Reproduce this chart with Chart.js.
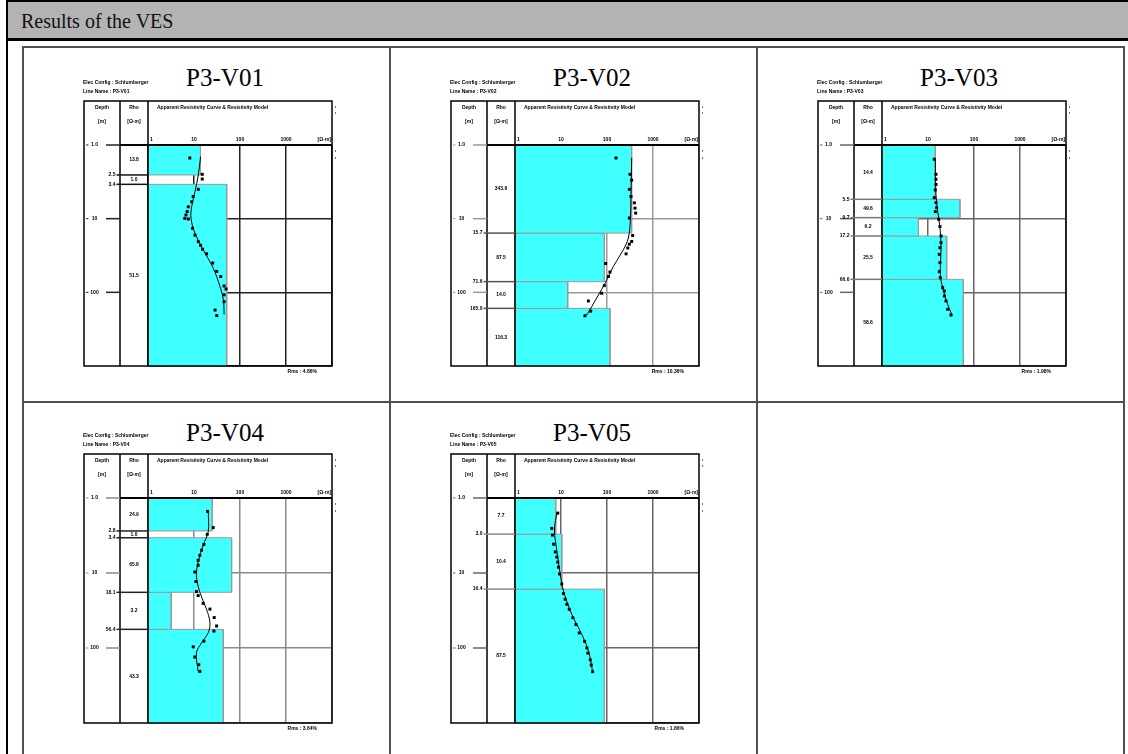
<!DOCTYPE html>
<html lang="en">
<head>
<meta charset="UTF-8">
<title>Results of the VES</title>
<script src="https://cdn.jsdelivr.net/npm/chart.js"></script>
<style>
    body {
        margin: 0;
        background: #fff;
        font-family: 'Liberation Serif', 'Times New Roman', serif;
    }
    #page {
        position: relative;
        width: 1128px;
        height: 754px;
        overflow: hidden;
    }
    .rule { position: absolute; background: #000; }
    .gridline { position: absolute; background: #505050; }
    #titleBar {
        position: absolute;
        left: 8px; top: 2px;
        width: 1120px; height: 36px;
        background: #b3b3b3;
        font-size: 20px;
        line-height: 38px;
        padding-left: 13px;
        box-sizing: border-box;
        color: #111;
    }
    .cell { position: absolute; width: 365px; height: 353px; overflow: hidden; }
    .panelTitle {
        position: absolute;
        left: 101px; width: 200px; top: 17px;
        font-size: 25px; line-height: 26px;
        text-align: center; color: #000;
    }
    .cell canvas { position: absolute; left: 53px; }
</style>
</head>
<body>
<div id="page">
    <div class="rule" style="left:6px;top:0;width:2px;height:754px"></div>
    <div class="rule" style="left:6px;top:0;width:1122px;height:2px"></div>
    <div id="titleBar">Results of the VES</div>
    <div class="rule" style="left:6px;top:38px;width:1122px;height:3px"></div>

    <div class="gridline" style="left:22px;top:46px;width:1103px;height:2px"></div>
    <div class="gridline" style="left:22px;top:401px;width:1103px;height:2px"></div>
    <div class="gridline" style="left:22px;top:46px;width:2px;height:708px"></div>
    <div class="gridline" style="left:389px;top:46px;width:2px;height:708px"></div>
    <div class="gridline" style="left:756px;top:46px;width:2px;height:708px"></div>
    <div class="gridline" style="left:1123px;top:46px;width:2px;height:708px"></div>
</div>

<script>
    // axis ticks
    const resTicks = [1, 10, 100, 1000, 10000];
    const resTickText = ['1', '10', '100', '1000', ''];
    const resUnit = '[Ω·m]';
    const depthTicks = [1, 10, 100, 1000];
    const depthTickText = ['1.0', '10', '100', ''];

    // P3-V01
    const v01ObsDepth = [1.5, 2.5, 2.9, 4.0, 5.0, 5.9, 6.9, 8.0, 8.9, 9.9, 10.1, 13.5, 16.7, 20.5, 23, 26, 30, 40, 52, 61, 82, 90, 108, 134, 174, 207];
    const v01ObsRho = [8.1, 15.1, 15.1, 12.4, 9.6, 8.9, 7.5, 7.1, 6.7, 6.3, 7.5, 9.3, 10.5, 12.4, 13.9, 15.4, 18.8, 25.5, 31.2, 38.1, 45.1, 49.8, 45.1, 45.1, 28.7, 31.2];
    const v01CurveDepth = [1.44, 2.55, 4.3, 6.9, 9.9, 15.8, 26.6, 47.2, 83.7, 127, 200];
    const v01CurveRho = [13.9, 12.4, 10.5, 8.9, 8.6, 10.5, 15.9, 26.3, 36.8, 43.6, 45.1];
    const v01Bounds = [2.55, 3.42];
    const v01LayerRho = [13.8, 1.0, 51.5];

    // P3-V02
    const v02ObsDepth = [1.5, 2.5, 3.0, 4.0, 5.0, 6.1, 7.2, 8.4, 9.8, 16.9, 20.4, 22.2, 25, 30, 40.6, 53, 61, 81, 103, 131, 180, 208];
    const v02ObsRho = [157, 316, 344, 306, 332, 393, 406, 420, 306, 361, 344, 306, 283, 260, 93.5, 116, 107, 87.5, 76.6, 39.3, 44.2, 33.2];
    const v02CurveDepth = [1.49, 4.7, 10.9, 18.3, 26.5, 44.7, 75.4, 109, 157, 204];
    const v02CurveRho = [344, 332, 321, 291, 226, 137, 90.5, 64.8, 46.4, 36.1];
    const v02Bounds = [15.7, 71.6, 165];
    const v02LayerRho = [343.8, 87.5, 14.0, 116.3];

    // P3-V03
    const v03ObsDepth = [1.56, 2.5, 2.92, 3.43, 4.08, 5.19, 6.06, 7.09, 8.03, 10.2, 12.8, 17.2, 21.2, 24.8, 30.5, 39.5, 52.4, 63.2, 86.4, 95.9, 112, 131, 170, 203];
    const v03ObsRho = [13.7, 14.9, 14.9, 14.9, 14.4, 13.7, 14.9, 15.4, 14.4, 17.1, 18.2, 19.2, 19.2, 18.2, 17.6, 18.2, 17.6, 18.5, 20.8, 22.7, 22.7, 24.6, 26.8, 31.6];
    const v03CurveDepth = [1.56, 4.67, 7.87, 13.3, 24.8, 57, 86.4, 146, 203];
    const v03CurveRho = [14.4, 14.9, 16.2, 18.2, 19.2, 18.5, 20.8, 26.8, 33.2];
    const v03Bounds = [5.46, 9.69, 17.2, 66.6];
    const v03LayerRho = [14.4, 49.6, 6.2, 25.5, 58.6];

    // P3-V04
    const v04ObsDepth = [1.51, 2.48, 3.05, 4.17, 4.97, 5.8, 6.77, 7.9, 9.7, 13, 17.7, 20, 25.4, 30.3, 39.3, 50.9, 59.4, 81, 96.5, 132, 167, 205];
    const v04ObsRho = [19.7, 26.2, 19.4, 16.4, 14.6, 13.4, 12.3, 12.3, 10.4, 11.0, 11.3, 12.3, 15.8, 22.2, 27.5, 31, 27.1, 16.4, 9.6, 10.4, 12.7, 13.4];
    const v04CurveDepth = [1.51, 2.81, 4.25, 7.13, 10.8, 18.1, 30.3, 45.9, 62.5, 85.3, 116, 205];
    const v04CurveRho = [20.4, 20.4, 15.8, 12.3, 11.3, 13.4, 18.7, 22.2, 20.4, 14.6, 11.3, 12.3];
    const v04Bounds = [2.75, 3.39, 18.1, 56.4];
    const v04LayerRho = [24.9, 1.0, 65.8, 3.2, 43.3];

    // P3-V05
    const v05ObsDepth = [1.59, 2.54, 3.12, 4.13, 5.24, 6.13, 7.16, 8.36, 10.3, 14.0, 18.8, 22.4, 26.1, 30.5, 39.5, 48.6, 63, 81.6, 100, 117, 144, 169, 207];
    const v05ObsRho = [8.5, 6.3, 6.5, 6.9, 7.5, 8.1, 8.5, 8.8, 9.3, 10.4, 11.3, 12.3, 13.4, 15.1, 18.1, 21.1, 24.9, 32.6, 36.6, 38.5, 43.3, 45.5, 48.7];
    const v05CurveDepth = [1.59, 2.68, 4.98, 10.3, 17.3, 35.6, 66.4, 111, 207];
    const v05CurveRho = [8.1, 7.2, 8.1, 9.6, 11.3, 17.2, 28.5, 39.8, 48.7];
    const v05Bounds = [3.03, 16.4];
    const v05LayerRho = [7.7, 10.4, 87.5];

    const panelNames = ['P3-V01', 'P3-V02', 'P3-V03', 'P3-V04', 'P3-V05'];
    const rmsText = ['4.86', '10.36', '1.98', '3.64', '1.86'];

    const panels = [
        { obsD: v01ObsDepth, obsR: v01ObsRho, curD: v01CurveDepth, curR: v01CurveRho, bounds: v01Bounds, rho: v01LayerRho, grid: '#222', edge: '#111' },
        { obsD: v02ObsDepth, obsR: v02ObsRho, curD: v02CurveDepth, curR: v02CurveRho, bounds: v02Bounds, rho: v02LayerRho, grid: '#999', edge: '#555' },
        { obsD: v03ObsDepth, obsR: v03ObsRho, curD: v03CurveDepth, curR: v03CurveRho, bounds: v03Bounds, rho: v03LayerRho, grid: '#666', edge: '#777' },
        { obsD: v04ObsDepth, obsR: v04ObsRho, curD: v04CurveDepth, curR: v04CurveRho, bounds: v04Bounds, rho: v04LayerRho, grid: '#8a8a8a', edge: '#222' },
        { obsD: v05ObsDepth, obsR: v05ObsRho, curD: v05CurveDepth, curR: v05CurveRho, bounds: v05Bounds, rho: v05LayerRho, grid: '#666', edge: '#888' }
    ];
    panels.forEach((p, i) => { p.name = panelNames[i]; p.rms = rmsText[i]; });

    const cellLeft = [24, 391, 758];
    const cellTop = [48, 403];
    const tinyFont = 'bold 5px "Liberation Sans", Arial, sans-serif';

    // frame, columns and labels around the plot area
    function vesDecor(p) {
        return {
            id: 'vesDecor',
            afterDraw(chart) {
                const ctx = chart.ctx;
                const area = chart.chartArea;
                const ys = chart.scales.y;
                const fl = 7, div = 43;
                const ft = area.top - 44, fr = area.right, fb = area.bottom, pl = area.left;

                ctx.save();
                ctx.fillStyle = '#000';
                ctx.font = tinyFont;
                ctx.textBaseline = 'middle';

                ctx.textAlign = 'left';
                ctx.fillText('Elec Config : Schlumberger', 6, ft - 18);
                ctx.fillText('Line Name : ' + p.name, 6, ft - 9);

                // outer frame and column dividers
                ctx.strokeStyle = '#000';
                ctx.lineWidth = 1.5;
                ctx.strokeRect(fl, ft, fr - fl, fb - ft);
                ctx.beginPath();
                ctx.moveTo(div, ft); ctx.lineTo(div, fb);
                ctx.moveTo(pl, ft); ctx.lineTo(pl, fb);
                ctx.stroke();
                ctx.lineWidth = 2;
                ctx.beginPath();
                ctx.moveTo(div, area.top); ctx.lineTo(fr, area.top);
                ctx.stroke();

                // header
                ctx.textAlign = 'center';
                ctx.fillText('Depth', (fl + div) / 2, ft + 7);
                ctx.fillText('[m]', (fl + div) / 2, ft + 21);
                ctx.fillText('Rho', (div + pl) / 2, ft + 7);
                ctx.fillText('[Ω·m]', (div + pl) / 2, ft + 21);
                ctx.textAlign = 'left';
                ctx.fillText('Apparent Resistivity Curve & Resistivity Model', pl + 9, ft + 7);
                // first resistivity label sits just right of the plot edge
                ctx.fillText(resTickText[0], pl + 2, area.top - 5);
                ctx.textAlign = 'right';
                ctx.fillText(resUnit, fr - 1, area.top - 5);

                // depth axis in the depth column
                ctx.strokeStyle = p.grid;
                depthTicks.forEach((v, i) => {
                    const t = depthTickText[i];
                    if (!t) return;
                    const yy = ys.getPixelForValue(v);
                    ctx.lineWidth = 1;
                    ctx.beginPath();
                    ctx.moveTo(fl + 2, yy); ctx.lineTo(fl + 4.5, yy);
                    ctx.stroke();
                    ctx.textAlign = 'center';
                    ctx.fillText(t, fl + 10.5, yy);
                    ctx.lineWidth = 1.5;
                    ctx.beginPath();
                    ctx.moveTo(fl + 22, yy); ctx.lineTo(div, yy);
                    ctx.stroke();
                });

                // layer boundaries
                ctx.strokeStyle = p.edge;
                ctx.lineWidth = 1.5;
                p.bounds.forEach(d => {
                    const yy = ys.getPixelForValue(d);
                    ctx.beginPath();
                    ctx.moveTo(fl + 32.5, yy); ctx.lineTo(pl, yy);
                    ctx.stroke();
                    ctx.textAlign = 'right';
                    ctx.fillText(d.toFixed(1), fl + 31.5, yy);
                });

                // layer resistivities
                ctx.textAlign = 'center';
                p.rho.forEach((r, i) => {
                    const top = i ? ys.getPixelForValue(p.bounds[i - 1]) : area.top;
                    const bot = i < p.bounds.length ? ys.getPixelForValue(p.bounds[i]) : area.bottom;
                    ctx.fillText(r.toFixed(1), (div + pl) / 2, (top + bot) / 2);
                });

                // small marks at the right of the frame
                ctx.fillStyle = '#777';
                [ft + 6, ft + 12, area.top + 6, area.top + 13].forEach(yy => ctx.fillRect(fr + 3, yy - 1, 1, 2));

                ctx.fillStyle = '#000';
                ctx.textAlign = 'right';
                ctx.fillText('Rms : ' + p.rms + '%', fr - 15, fb + 6);
                ctx.restore();
            }
        };
    }

    function renderPanel(p, canvas) {
        const top = depthTicks[0];
        const bottom = depthTicks[depthTicks.length - 1];
        const left = resTicks[0];

        const layerSets = p.rho.map((r, i) => {
            const d0 = i ? p.bounds[i - 1] : top;
            const d1 = i < p.bounds.length ? p.bounds[i] : bottom;
            return {
                label: 'layer ' + (i + 1),
                data: [{ x: left, y: d0 }, { x: r, y: d0 }, { x: r, y: d1 }, { x: left, y: d1 }, { x: left, y: d0 }],
                showLine: true,
                fill: 'shape',
                backgroundColor: '#40ffff',
                borderColor: '#9a9a9a',
                borderWidth: 1,
                pointRadius: 0,
                order: 2
            };
        });

        new Chart(canvas, {
            type: 'scatter',
            data: {
                datasets: [
                    {
                        label: 'Apparent resistivity',
                        data: p.obsD.map((d, i) => ({ x: p.obsR[i], y: d })),
                        pointStyle: 'rect',
                        pointRadius: 2.1,
                        backgroundColor: '#000',
                        borderWidth: 0,
                        order: 0
                    },
                    {
                        label: 'Calculated curve',
                        data: p.curD.map((d, i) => ({ x: p.curR[i], y: d })),
                        showLine: true,
                        pointRadius: 0,
                        borderColor: '#000',
                        borderWidth: 1,
                        tension: 0.35,
                        fill: false,
                        order: 1
                    },
                    ...layerSets
                ]
            },
            options: {
                responsive: false,
                animation: false,
                events: [],
                layout: { padding: { left: 71, right: 45, top: 59, bottom: 33 } },
                plugins: {
                    legend: { display: false },
                    tooltip: { enabled: false }
                },
                scales: {
                    x: {
                        type: 'logarithmic',
                        position: 'top',
                        min: resTicks[0],
                        max: resTicks[resTicks.length - 1],
                        afterBuildTicks: s => { s.ticks = resTicks.map(v => ({ value: v })); },
                        afterFit: s => { s.height = 9; },
                        ticks: {
                            font: { size: 5, weight: 'bold', family: '"Liberation Sans", Arial, sans-serif' },
                            color: '#000',
                            padding: 2,
                            maxRotation: 0,
                            autoSkip: false,
                            // the first and last labels are placed by the decor plugin
                            callback: (v, i) => (i === 0 ? '' : resTickText[i])
                        },
                        grid: { color: p.grid, lineWidth: 1.5, drawTicks: false },
                        border: { display: false }
                    },
                    y: {
                        type: 'logarithmic',
                        reverse: true,
                        min: depthTicks[0],
                        max: depthTicks[depthTicks.length - 1],
                        afterBuildTicks: s => { s.ticks = depthTicks.map(v => ({ value: v })); },
                        afterFit: s => { s.width = 0; },
                        ticks: { display: false },
                        grid: { color: p.grid, lineWidth: 1.5, drawTicks: false },
                        border: { display: false }
                    }
                }
            },
            plugins: [vesDecor(p)]
        });
    }

    const page = document.getElementById('page');
    panels.forEach((p, k) => {
        const col = k % 3, row = Math.floor(k / 3);
        const cell = document.createElement('div');
        cell.className = 'cell';
        cell.style.left = cellLeft[col] + 'px';
        cell.style.top = cellTop[row] + 'px';

        const title = document.createElement('div');
        title.className = 'panelTitle';
        title.textContent = p.name;
        cell.appendChild(title);

        const canvas = document.createElement('canvas');
        canvas.width = 300;
        canvas.height = row ? 326 : 322;
        canvas.style.top = (row ? 27 : 29) + 'px';
        cell.appendChild(canvas);
        page.appendChild(cell);

        renderPanel(p, canvas);
    });
</script>
</body>
</html>
